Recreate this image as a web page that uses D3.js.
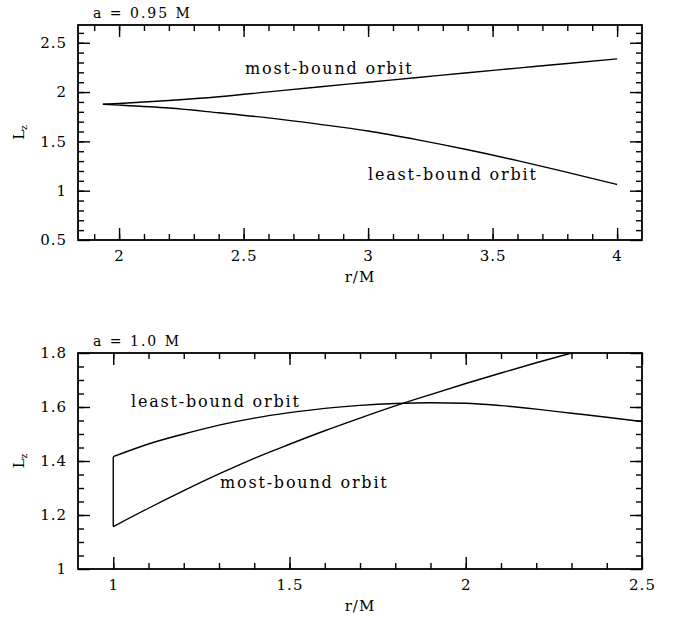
<!DOCTYPE html>
<html>
<head>
<meta charset="utf-8">
<script src="https://cdn.jsdelivr.net/npm/d3@7"></script>
<style>
  body { margin: 0; background: #fff; }
  svg text { font-family: "DejaVu Serif", serif; fill: #000; }
</style>
</head>
<body>
<div id="chart"></div>
<script>
// a = 0.95 M
const r95 = [1.935, 2.0, 2.2, 2.4, 2.6, 2.8, 3.0, 3.2, 3.4, 3.6, 3.8, 4.0];
const mostBound95 = [1.876, 1.884, 1.914, 1.952, 2.002, 2.052, 2.100, 2.148, 2.196, 2.243, 2.290, 2.336];
const leastBound95 = [1.876, 1.868, 1.838, 1.790, 1.738, 1.675, 1.605, 1.515, 1.415, 1.305, 1.186, 1.063];

// a = 1.0 M
const r10 = [1.0, 1.1, 1.2, 1.3, 1.4, 1.5, 1.6, 1.7, 1.8, 1.9, 2.0, 2.1, 2.2, 2.3, 2.4, 2.5];
const leastBound10 = [1.416, 1.463, 1.500, 1.533, 1.559, 1.579, 1.595, 1.606, 1.613, 1.616, 1.614, 1.605, 1.592, 1.577, 1.562, 1.546];
const mostBound10 = [1.157, 1.225, 1.290, 1.352, 1.410, 1.462, 1.512, 1.559, 1.604, 1.646, 1.687, 1.726, 1.764, 1.800];

// tick labels
const xTicks95 = [2, 2.5, 3, 3.5, 4];
const yTicks95 = [0.5, 1, 1.5, 2, 2.5];
const xTicks10 = [1, 1.5, 2, 2.5];
const yTicks10 = [1, 1.2, 1.4, 1.6, 1.8];

const width = 683;
const height = 617;
const left = 78;
const right = 642;

const svg = d3.select('#chart')
  .append('svg')
  .attr('width', width)
  .attr('height', height);

function drawPanel(opt) {
  const g = svg.append('g');
  const x = d3.scaleLinear().domain(opt.xDomain).range([left, right]);
  const y = d3.scaleLinear().domain(opt.yDomain).range([opt.bottom, opt.top]);

  const xMinor = d3.range(opt.xMinor[0], opt.xMinor[1] + 1e-9, opt.xMinor[2]);
  const yMinor = d3.range(opt.yMinor[0], opt.yMinor[1] + 1e-9, opt.yMinor[2]);

  // ticks on all four sides, pointing inward
  const axes = [
    [d3.axisBottom(x), `translate(0,${opt.bottom})`, xMinor, opt.xTicks, true],
    [d3.axisTop(x), `translate(0,${opt.top})`, xMinor, opt.xTicks, false],
    [d3.axisLeft(y), `translate(${left},0)`, yMinor, opt.yTicks, true],
    [d3.axisRight(y), `translate(${right},0)`, yMinor, opt.yTicks, false],
  ];
  axes.forEach(([axis, tr, minor, major, labels]) => {
    const gm = g.append('g').attr('transform', tr)
      .call(axis.tickValues(minor).tickSize(-6).tickFormat(''));
    gm.select('.domain').remove();
    const horizontal = tr.startsWith('translate(0');
    const gM = g.append('g').attr('transform', tr)
      .call(axis.tickValues(major).tickSize(-12)
        .tickPadding(horizontal ? 10 : 11)
        .tickFormat(labels ? (d) => String(d) : ''));
    gM.select('.domain').remove();
    g.selectAll('.tick line').attr('stroke', '#000').attr('stroke-width', 1.4);
    gM.selectAll('text')
      .attr('font-family', '"DejaVu Serif", serif')
      .attr('font-size', 15)
      .style('letter-spacing', '1px');
  });

  // frame
  g.append('rect')
    .attr('x', left)
    .attr('y', opt.top)
    .attr('width', right - left)
    .attr('height', opt.bottom - opt.top)
    .attr('fill', 'none')
    .attr('stroke', '#000')
    .attr('stroke-width', 1.8);

  const clipId = `clip${opt.id}`;
  g.append('clipPath').attr('id', clipId)
    .append('rect')
    .attr('x', left)
    .attr('y', opt.top)
    .attr('width', right - left)
    .attr('height', opt.bottom - opt.top);

  const smooth = d3.line().x((d) => x(d[0])).y((d) => y(d[1])).curve(d3.curveMonotoneX);
  const straight = d3.line().x((d) => x(d[0])).y((d) => y(d[1]));
  opt.curves.forEach((c) => {
    g.append('path')
      .datum(c)
      .attr('d', smooth)
      .attr('fill', 'none')
      .attr('stroke', '#000')
      .attr('stroke-width', 1.4)
      .attr('clip-path', `url(#${clipId})`);
  });
  if (opt.joint) {
    g.append('path')
      .datum(opt.joint)
      .attr('d', straight)
      .attr('fill', 'none')
      .attr('stroke', '#000')
      .attr('stroke-width', 1.4);
  }

  // title
  g.append('text')
    .attr('x', 93)
    .attr('y', opt.top - 7)
    .attr('font-size', 14)
    .style('letter-spacing', '2px')
    .style('white-space', 'pre')
    .text(opt.title);

  // x label
  g.append('text')
    .attr('x', (left + right) / 2)
    .attr('y', opt.bottom + 42)
    .attr('text-anchor', 'middle')
    .attr('font-size', 15)
    .style('letter-spacing', '1px')
    .text('r/M');

  // y label
  const yl = g.append('text')
    .attr('transform', `translate(24,${(opt.top + opt.bottom) / 2}) rotate(-90)`)
    .attr('text-anchor', 'middle')
    .attr('font-size', 15);
  yl.append('tspan').text('L');
  yl.append('tspan').attr('font-size', 9).attr('dy', 3).text('z');

  // curve labels
  opt.notes.forEach((n) => {
    g.append('text')
      .attr('x', n.x)
      .attr('y', n.y)
      .attr('font-size', 16)
      .style('letter-spacing', '1.8px')
      .text(n.text);
  });
}

drawPanel({
  id: 'a095',
  title: 'a = 0.95 M',
  top: 25,
  bottom: 240,
  xDomain: [1.835, 4.1],
  yDomain: [0.5, 2.68],
  xMinor: [1.9, 4.0, 0.1],
  yMinor: [0.6, 2.6, 0.1],
  xTicks: xTicks95,
  yTicks: yTicks95,
  curves: [
    r95.map((r, i) => [r, mostBound95[i]]),
    r95.map((r, i) => [r, leastBound95[i]]),
  ],
  notes: [
    { x: 245, y: 74, text: 'most-bound orbit' },
    { x: 368, y: 180, text: 'least-bound orbit' },
  ],
});

drawPanel({
  id: 'a10',
  title: 'a = 1.0 M',
  top: 353,
  bottom: 569,
  xDomain: [0.9, 2.5],
  yDomain: [1.0, 1.8],
  xMinor: [1.0, 2.4, 0.1],
  yMinor: [1.05, 1.75, 0.05],
  xTicks: xTicks10,
  yTicks: yTicks10,
  curves: [
    r10.map((r, i) => [r, leastBound10[i]]),
    mostBound10.map((v, i) => [r10[i], v]),
  ],
  // vertical segment joining both curves at r = 1
  joint: [[r10[0], leastBound10[0]], [r10[0], mostBound10[0]]],
  notes: [
    { x: 131, y: 407, text: 'least-bound orbit' },
    { x: 220, y: 488, text: 'most-bound orbit' },
  ],
});
</script>
</body>
</html>
